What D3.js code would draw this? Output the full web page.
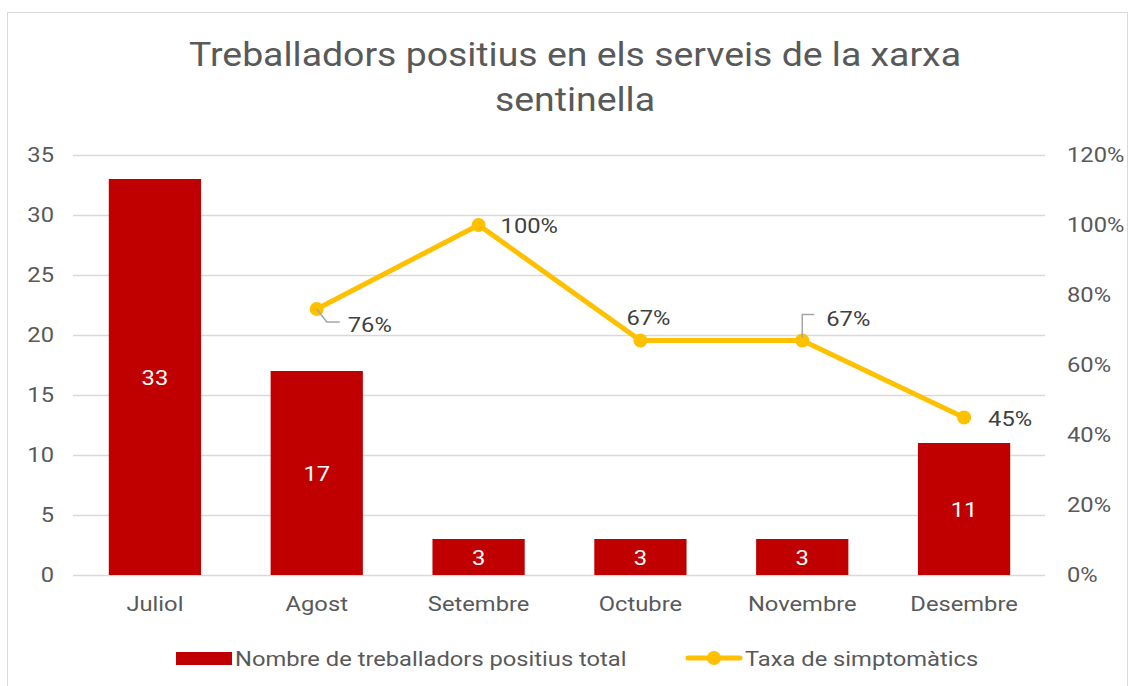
<!DOCTYPE html>
<html>
<head>
<meta charset="utf-8">
<script src="https://cdn.jsdelivr.net/npm/d3@7"></script>
<style>
	body { margin: 0; background: #fff; }
	text { font-family: Roboto, 'Noto Sans', sans-serif; }
</style>
</head>
<body>
<div id="container"></div>
<script>
'use strict';
// chart data
let months = ['Juliol', 'Agost', 'Setembre', 'Octubre', 'Novembre', 'Desembre'];
let positius = [33, 17, 3, 3, 3, 11];
let taxa = [null, 0.76, 1.0, 0.67, 0.67, 0.45];
let leftTicks = [0, 5, 10, 15, 20, 25, 30, 35];
let rightTicks = [0, 0.2, 0.4, 0.6, 0.8, 1.0, 1.2];
let titleLines = ['Treballadors positius en els serveis de la xarxa', 'sentinella'];
let seriesNames = ['Nombre de treballadors positius total', 'Taxa de simptomàtics'];

let options = {
	width: 1130,
	height: 686,
	left: 74,
	right: 1045,
	top: 155,
	bottom: 575,
	barColor: '#C00000',
	lineColor: '#FFC000',
	textColor: '#595959',
	fontSize: 21,
	stretch: 1.13,
};

let svg = d3.select('#container')
	.append('svg')
	.attr('width', options.width)
	.attr('height', options.height);

svg.append('rect')
	.attr('x', 7.5).attr('y', 12.5)
	.attr('width', 1120).attr('height', 690)
	.attr('fill', 'white')
	.attr('stroke', '#d9d9d9');

// text helper: text is a bit wider than plain Roboto in the reference
function label(parent, x, y, str, anchor, color, size, k) {
	return parent.append('text')
		.attr('transform', `translate(${x},${y}) scale(${k || options.stretch},1)`)
		.attr('text-anchor', anchor || 'start')
		.attr('font-size', size || options.fontSize)
		.attr('fill', color || options.textColor)
		.text(str);
}

// title
titleLines.forEach((t, i) => label(svg, 575, 66 + i * 45, t, 'middle', options.textColor, 34, 1.1));

let x = d3.scaleBand().domain(months).range([options.left, options.right]).paddingInner(0.43).paddingOuter(0.215);
let y = d3.scaleLinear().domain([0, 35]).range([options.bottom, options.top]);
let y2 = d3.scaleLinear().domain([0, 1.2]).range([options.bottom, options.top]);
let cx = (m) => x(m) + x.bandwidth() / 2;

// gridlines
svg.append('g')
	.selectAll('line')
	.data(leftTicks)
	.join('line')
	.attr('x1', options.left - 1)
	.attr('x2', options.right)
	.attr('y1', (d) => Math.round(y(d)) + 0.5)
	.attr('y2', (d) => Math.round(y(d)) + 0.5)
	.attr('stroke', '#d9d9d9')
	.attr('stroke-width', 1.3);

// axes
let leftAxis = svg.append('g')
	.attr('transform', `translate(${options.left - 20},0)`)
	.call(d3.axisLeft(y).tickValues(leftTicks).tickSize(0).tickPadding(0));
let rightAxis = svg.append('g')
	.attr('transform', `translate(${options.right + 22},0)`)
	.call(d3.axisRight(y2).tickValues(rightTicks).tickSize(0).tickPadding(0).tickFormat(d3.format('.0%')));
let bottomAxis = svg.append('g')
	.attr('transform', `translate(0,${options.bottom + 30})`)
	.call(d3.axisBottom(x).tickSize(0).tickPadding(0));

[leftAxis, rightAxis, bottomAxis].forEach((g) => {
	g.select('.domain').remove();
	g.selectAll('text')
		.attr('font-size', options.fontSize)
		.attr('fill', options.textColor)
		.attr('font-family', 'Roboto, sans-serif')
		.attr('transform', `scale(${options.stretch},1)`);
});
bottomAxis.selectAll('text').attr('dy', '0.3em');

// bars
svg.append('g')
	.selectAll('rect')
	.data(positius)
	.join('rect')
	.attr('x', (d, i) => x(months[i]))
	.attr('y', (d) => y(d))
	.attr('width', x.bandwidth())
	.attr('height', (d) => y(0) - y(d))
	.attr('fill', options.barColor);

let barLabels = svg.append('g');
positius.forEach((d, i) => {
	label(barLabels, cx(months[i]), (y(d) + y(0)) / 2 + 8, d, 'middle', 'white');
});

// line series
let pts = taxa.map((v, i) => ({ m: months[i], v: v })).filter((d) => d.v !== null);
svg.append('path')
	.datum(pts)
	.attr('d', d3.line().x((d) => cx(d.m)).y((d) => y2(d.v)))
	.attr('fill', 'none')
	.attr('stroke', options.lineColor)
	.attr('stroke-width', 5)
	.attr('stroke-linejoin', 'round');

svg.append('g')
	.selectAll('circle')
	.data(pts)
	.join('circle')
	.attr('cx', (d) => cx(d.m))
	.attr('cy', (d) => y2(d.v))
	.attr('r', 7)
	.attr('fill', options.lineColor);

// label offsets relative to point
let labelPos = [
	{ dx: 31, dy: 23, leader: [[0, 0], [10, 13], [23, 13]] },
	{ dx: 22, dy: 8 },
	{ dx: -14, dy: -16 },
	{ dx: 24, dy: -15, leader: [[0, -3], [0, -26], [12, -26]] },
	{ dx: 24, dy: 8 },
];
let lbl = svg.append('g');
pts.forEach((d, i) => {
	let px = cx(d.m), py = y2(d.v), p = labelPos[i];
	if (p.leader) {
		lbl.append('path')
			.attr('d', d3.line()(p.leader.map((q) => [px + q[0], py + q[1]])))
			.attr('fill', 'none')
			.attr('stroke', '#a6a6a6')
			.attr('stroke-width', 1.5);
	}
	label(lbl, px + p.dx, py + p.dy, d3.format('.0%')(d.v), 'start', '#404040');
});

// legend
let legend = svg.append('g');
legend.append('rect')
	.attr('x', 176).attr('y', 652)
	.attr('width', 56).attr('height', 13)
	.attr('fill', options.barColor);
label(legend, 235, 666, seriesNames[0]);
legend.append('line')
	.attr('x1', 688).attr('x2', 740)
	.attr('y1', 658).attr('y2', 658)
	.attr('stroke', options.lineColor)
	.attr('stroke-width', 5)
	.attr('stroke-linecap', 'round');
legend.append('circle')
	.attr('cx', 714).attr('cy', 658).attr('r', 7)
	.attr('fill', options.lineColor);
label(legend, 745, 666, seriesNames[1]);
</script>
</body>
</html>
